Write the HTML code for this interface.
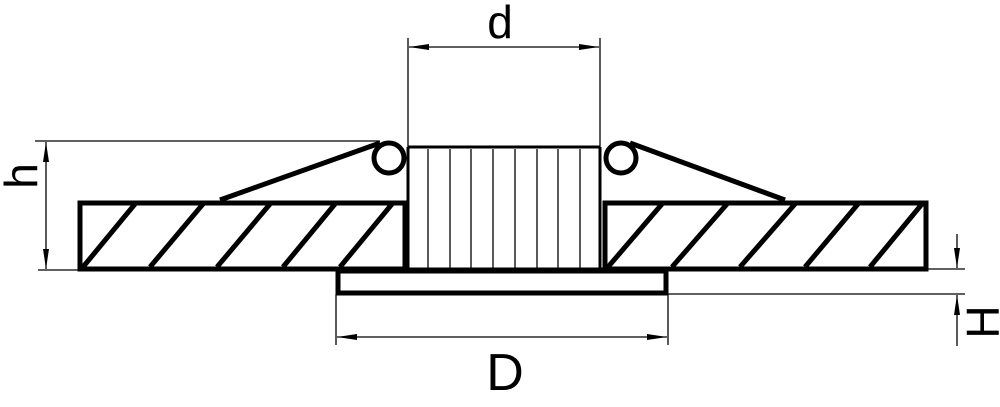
<!DOCTYPE html>
<html><head><meta charset="utf-8"><style>html,body{margin:0;padding:0;background:#fff}svg{display:block}</style></head><body>
<svg width="1000" height="407" viewBox="0 0 1000 407" xmlns="http://www.w3.org/2000/svg">
<defs>
<marker id="a" viewBox="0 0 20 6" refX="20" refY="3" markerWidth="20" markerHeight="6" markerUnits="userSpaceOnUse" orient="auto"><path d="M0,0 L20,3 L0,6 Z" fill="#000"/></marker>
</defs>
<g stroke="#000" fill="none" stroke-width="1.3">
<!-- d dimension -->
<line x1="408" y1="38" x2="408" y2="147"/>
<line x1="600" y1="38" x2="600" y2="147"/>
<line x1="500" y1="47" x2="409" y2="47" marker-end="url(#a)"/>
<line x1="500" y1="47" x2="599" y2="47" marker-end="url(#a)"/>
<!-- h dimension -->
<line x1="35" y1="141" x2="380" y2="141"/>
<line x1="38" y1="270" x2="80" y2="270"/>
<line x1="46" y1="200" x2="46" y2="142" marker-end="url(#a)"/>
<line x1="46" y1="200" x2="46" y2="269" marker-end="url(#a)"/>
<!-- D dimension -->
<line x1="336" y1="294" x2="336" y2="345"/>
<line x1="668" y1="294" x2="668" y2="345"/>
<line x1="500" y1="337" x2="337" y2="337" marker-end="url(#a)"/>
<line x1="500" y1="337" x2="667" y2="337" marker-end="url(#a)"/>
<!-- H dimension -->
<line x1="926" y1="269" x2="965" y2="269"/>
<line x1="668" y1="294" x2="965" y2="294"/>
<line x1="957" y1="234" x2="957" y2="268" marker-end="url(#a)"/>
<line x1="957" y1="346" x2="957" y2="295" marker-end="url(#a)"/>
<!-- cylinder lines -->
<line x1="428" y1="149" x2="428" y2="268"/>
<line x1="450" y1="149" x2="450" y2="268"/>
<line x1="471" y1="149" x2="471" y2="268"/>
<line x1="493" y1="149" x2="493" y2="268"/>
<line x1="515" y1="149" x2="515" y2="268"/>
<line x1="537" y1="149" x2="537" y2="268"/>
<line x1="558" y1="149" x2="558" y2="268"/>
<line x1="580" y1="149" x2="580" y2="268"/>
</g>
<g stroke="#000" fill="none" stroke-width="5">
<rect x="80" y="203" width="325" height="66"/>
<rect x="605" y="203" width="321" height="66"/>
<rect x="338" y="271" width="328" height="22"/>
<line x1="83" y1="267" x2="135" y2="204"/>
<line x1="150" y1="267" x2="203" y2="204"/>
<line x1="217" y1="267" x2="270" y2="204"/>
<line x1="283" y1="267" x2="335" y2="204"/>
<line x1="340" y1="267" x2="392" y2="204"/>
<line x1="608" y1="267" x2="662" y2="204"/>
<line x1="672" y1="267" x2="727" y2="204"/>
<line x1="740" y1="267" x2="795" y2="204"/>
<line x1="805" y1="267" x2="858" y2="204"/>
<line x1="870" y1="267" x2="922" y2="204"/>
<line x1="220" y1="200" x2="380" y2="143"/>
<line x1="630" y1="143" x2="785" y2="200"/>
<circle cx="389" cy="158" r="15"/>
<circle cx="621" cy="158" r="15"/>
</g>
<g stroke="#000" fill="none" stroke-width="3">
<line x1="408" y1="147" x2="600" y2="147"/>
<line x1="408" y1="147" x2="408" y2="270"/>
<line x1="600" y1="147" x2="600" y2="270"/>
<line x1="405" y1="269" x2="605" y2="269"/>
</g>
<g font-family="Liberation Sans, sans-serif" fill="#000">
<text x="500" y="38" font-size="46" text-anchor="middle">d</text>
<text x="505" y="390" font-size="52" text-anchor="middle">D</text>
<text transform="translate(37,176) rotate(-90)" font-size="46" text-anchor="middle">h</text>
<text transform="translate(999,322) rotate(-90)" font-size="46" text-anchor="middle">H</text>
</g>
</svg>
</body></html>
